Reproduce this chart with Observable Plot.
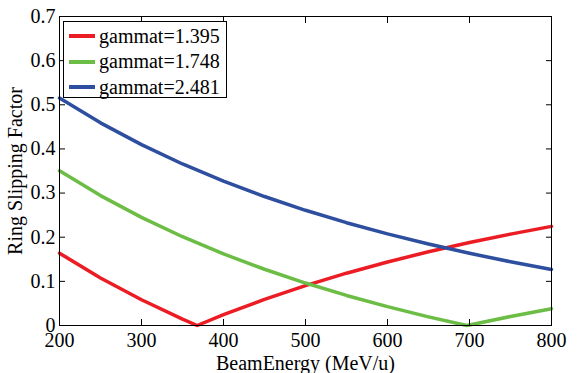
<!DOCTYPE html>
<html>
<head>
<meta charset="utf-8">
<script src="https://cdn.jsdelivr.net/npm/d3@7"></script>
<script src="https://cdn.jsdelivr.net/npm/@observablehq/plot@0.6"></script>
<style>
  body { margin: 0; background: #fff; }
  #wrap { position: relative; width: 579px; height: 373px; font-family: "Liberation Serif", "Times New Roman", serif; }
  #legend { position: absolute; left: 63px; top: 21px; width: 164px; height: 77px; border: 1px solid #000; background: #fff; box-sizing: border-box; }
  .entry { position: absolute; left: 5px; height: 20px; display: flex; align-items: center; font-size: 20px; color: #000; }
  .swatch { width: 26px; height: 4px; margin-right: 4px; }
</style>
</head>
<body>
<div id="wrap"></div>
<script>
const energy1 = [200, 250, 300, 350, 367.9, 400, 450, 500, 550, 600, 650, 700, 750, 800];
const eta1    = [0.1639, 0.1077, 0.0583, 0.0145, 0, 0.0245, 0.0592, 0.0904, 0.1185, 0.1439, 0.1670, 0.1879, 0.2070, 0.2245];
const energy2 = [200, 250, 300, 350, 400, 450, 500, 550, 600, 650, 696.8, 700, 750, 800];
const eta2    = [0.3505, 0.2943, 0.2449, 0.2011, 0.1621, 0.1274, 0.0962, 0.0681, 0.0427, 0.0196, 0, 0.0013, 0.0204, 0.0379];
const energy3 = [200, 250, 300, 350, 400, 450, 500, 550, 600, 650, 700, 750, 800];
const eta3    = [0.5153, 0.4591, 0.4097, 0.3659, 0.3270, 0.2922, 0.2610, 0.2329, 0.2075, 0.1845, 0.1635, 0.1444, 0.1270];
const seriesNames = ["gammat=1.395", "gammat=1.748", "gammat=2.481"];
const colors = ["#ec1c24", "#6cbd45", "#2e4f9f"];
const xTicks = [200, 300, 400, 500, 600, 700, 800];
const yTicks = [0, 0.1, 0.2, 0.3, 0.4, 0.5, 0.6, 0.7];

const rows = [];
[[energy1, eta1], [energy2, eta2], [energy3, eta3]].forEach(([xs, ys], i) => {
  xs.forEach((e, j) => rows.push({series: seriesNames[i], energy: e, eta: ys[j]}));
});

const font = '"Liberation Serif", "Times New Roman", serif';
const chart = Plot.plot({
  width: 579,
  height: 373,
  marginLeft: 59,
  marginRight: 28,
  marginTop: 16,
  marginBottom: 48,
  style: {fontFamily: font, fontSize: "20px", color: "#000", background: "#fff", overflow: "visible"},
  x: {domain: [200, 800]},
  y: {domain: [0, 0.7]},
  color: {domain: seriesNames, range: colors},
  marks: [
    Plot.line(rows, {x: "energy", y: "eta", z: "series", stroke: "series", strokeWidth: 3.5, strokeLinejoin: "round"}),
    Plot.frame({stroke: "#000", strokeWidth: 1}),
    Plot.axisX({anchor: "bottom", ticks: xTicks, tickSize: -6, text: null, label: null, stroke: "#000"}),
    Plot.axisX({anchor: "top", ticks: xTicks, tickSize: -6, text: null, label: null, stroke: "#000"}),
    Plot.axisY({anchor: "left", ticks: yTicks, tickSize: -6, text: null, label: null, stroke: "#000"}),
    Plot.axisY({anchor: "right", ticks: yTicks, tickSize: -6, text: null, label: null, stroke: "#000"}),
    Plot.axisX({anchor: "bottom", ticks: xTicks, tickSize: 0, tickPadding: 7, fontSize: 20, label: "BeamEnergy (MeV/u)", labelAnchor: "center", labelOffset: 44, labelArrow: "none"}),
    Plot.axisY({anchor: "left", ticks: yTicks, tickSize: 0, tickPadding: 4, fontSize: 20, tickFormat: d => d === 0 ? "0" : d3.format(".1f")(d), label: "Ring Slipping Factor", labelAnchor: "center", labelOffset: 52, labelArrow: "none"})
  ]
});
const wrap = document.getElementById("wrap");
wrap.appendChild(chart);

const legend = document.createElement("div");
legend.id = "legend";
seriesNames.forEach((name, i) => {
  const e = document.createElement("div");
  e.className = "entry";
  e.style.top = (4 + i * 25.5) + "px";
  const sw = document.createElement("span");
  sw.className = "swatch";
  sw.style.background = colors[i];
  const t = document.createElement("span");
  t.textContent = name;
  e.appendChild(sw); e.appendChild(t);
  legend.appendChild(e);
});
wrap.appendChild(legend);
</script>
</body>
</html>
